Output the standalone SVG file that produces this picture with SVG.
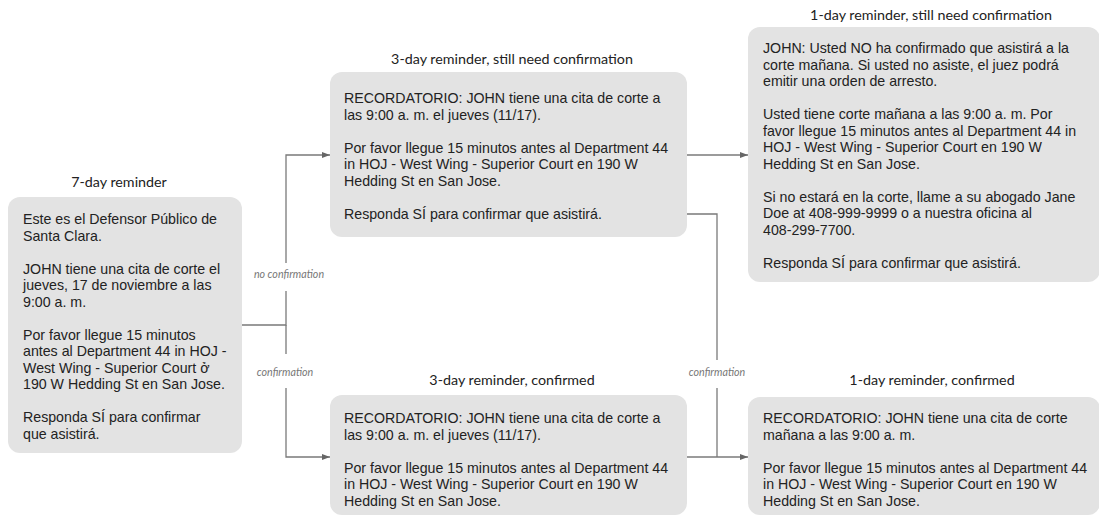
<svg xmlns="http://www.w3.org/2000/svg" width="1099" height="516" viewBox="0 0 1099 516">
<defs>
<style>
.box{fill:#e3e3e3;}
.body{font-family:"Liberation Sans",Arial,sans-serif;font-size:14.2px;fill:#222;}
.title{font-family:Lato,"Open Sans",sans-serif;font-size:14.3px;fill:#222;text-anchor:middle;}
.lbl{font-family:Lato,"Open Sans",sans-serif;font-size:10.7px;font-style:italic;fill:#777;text-anchor:middle;}
.conn{fill:none;stroke:#7a7a7a;stroke-width:1.3;}
.lblbg{fill:#fff;}
</style>
<marker id="arr" viewBox="0 0 8 6" refX="8" refY="3" markerWidth="8" markerHeight="6" markerUnits="userSpaceOnUse" orient="auto">
<path d="M0,0 L8,3 L0,6 z" fill="#666"/>
</marker>
</defs>
<rect width="1099" height="516" fill="#fff"/>

<g id="connectors">
<path class="conn" d="M242,325 H286 V155 H330" marker-end="url(#arr)"/>
<path class="conn" d="M286,325 V457 H330" marker-end="url(#arr)"/>
<path class="conn" d="M687,155 H748" marker-end="url(#arr)"/>
<path class="conn" d="M687,214 H717 V457"/>
<path class="conn" d="M687,457 H748" marker-end="url(#arr)"/>
<rect class="lblbg" x="248" y="263" width="84" height="28"/>
<text class="lbl" x="289" y="278">no confirmation</text>
<rect class="lblbg" x="250" y="354" width="70" height="34"/>
<text class="lbl" x="285" y="376">confirmation</text>
<rect class="lblbg" x="685" y="360" width="63" height="28"/>
<text class="lbl" x="717" y="376">confirmation</text>
</g>

<g id="node-7day">
<text class="title" x="119" y="187">7-day reminder</text>
<rect class="box" x="8" y="197" width="234" height="256" rx="12"/>
<text class="body" y="224">
<tspan x="23">Este es el Defensor Público de</tspan>
<tspan x="23" dy="16.5">Santa Clara.</tspan>
<tspan x="23" dy="33">JOHN tiene una cita de corte el</tspan>
<tspan x="23" dy="16.5">jueves, 17 de noviembre a las</tspan>
<tspan x="23" dy="16.5">9:00 a. m.</tspan>
<tspan x="23" dy="33">Por favor llegue 15 minutos</tspan>
<tspan x="23" dy="16.5">antes al Department 44 in HOJ -</tspan>
<tspan x="23" dy="16.5">West Wing - Superior Court ở</tspan>
<tspan x="23" dy="16.5">190 W Hedding St en San Jose.</tspan>
<tspan x="23" dy="33">Responda SÍ para confirmar</tspan>
<tspan x="23" dy="16.5">que asistirá.</tspan>
</text>
</g>

<g id="node-3day-need">
<text class="title" x="512" y="64">3-day reminder, still need confirmation</text>
<rect class="box" x="330" y="72" width="357" height="165" rx="12"/>
<text class="body" y="103">
<tspan x="344">RECORDATORIO: JOHN tiene una cita de corte a</tspan>
<tspan x="344" dy="16.5">las 9:00 a. m. el jueves (11/17).</tspan>
<tspan x="344" dy="33">Por favor llegue 15 minutos antes al Department 44</tspan>
<tspan x="344" dy="16.5">in HOJ - West Wing - Superior Court en 190 W</tspan>
<tspan x="344" dy="16.5">Hedding St en San Jose.</tspan>
<tspan x="344" dy="33">Responda SÍ para confirmar que asistirá.</tspan>
</text>
</g>

<g id="node-1day-need">
<text class="title" x="931" y="20">1-day reminder, still need confirmation</text>
<rect class="box" x="748" y="27" width="352" height="255" rx="12"/>
<text class="body" y="53">
<tspan x="763">JOHN: Usted NO ha confirmado que asistirá a la</tspan>
<tspan x="763" dy="16.5">corte mañana. Si usted no asiste, el juez podrá</tspan>
<tspan x="763" dy="16.5">emitir una orden de arresto.</tspan>
<tspan x="763" dy="33">Usted tiene corte mañana a las 9:00 a. m. Por</tspan>
<tspan x="763" dy="16.5">favor llegue 15 minutos antes al Department 44 in</tspan>
<tspan x="763" dy="16.5">HOJ - West Wing - Superior Court en 190 W</tspan>
<tspan x="763" dy="16.5">Hedding St en San Jose.</tspan>
<tspan x="763" dy="33">Si no estará en la corte, llame a su abogado Jane</tspan>
<tspan x="763" dy="16.5">Doe at 408-999-9999 o a nuestra oficina al</tspan>
<tspan x="763" dy="16.5">408-299-7700.</tspan>
<tspan x="763" dy="33">Responda SÍ para confirmar que asistirá.</tspan>
</text>
</g>

<g id="node-3day-confirmed">
<text class="title" x="512" y="385">3-day reminder, confirmed</text>
<rect class="box" x="330" y="395" width="357" height="120" rx="12"/>
<text class="body" y="423">
<tspan x="344">RECORDATORIO: JOHN tiene una cita de corte a</tspan>
<tspan x="344" dy="16.5">las 9:00 a. m. el jueves (11/17).</tspan>
<tspan x="344" dy="33">Por favor llegue 15 minutos antes al Department 44</tspan>
<tspan x="344" dy="16.5">in HOJ - West Wing - Superior Court en 190 W</tspan>
<tspan x="344" dy="16.5">Hedding St en San Jose.</tspan>
</text>
</g>

<g id="node-1day-confirmed">
<text class="title" x="932" y="385">1-day reminder, confirmed</text>
<rect class="box" x="748" y="397" width="352" height="118" rx="12"/>
<text class="body" y="423">
<tspan x="763">RECORDATORIO: JOHN tiene una cita de corte</tspan>
<tspan x="763" dy="16.5">mañana a las 9:00 a. m.</tspan>
<tspan x="763" dy="33">Por favor llegue 15 minutos antes al Department 44</tspan>
<tspan x="763" dy="16.5">in HOJ - West Wing - Superior Court en 190 W</tspan>
<tspan x="763" dy="16.5">Hedding St en San Jose.</tspan>
</text>
</g>
</svg>
